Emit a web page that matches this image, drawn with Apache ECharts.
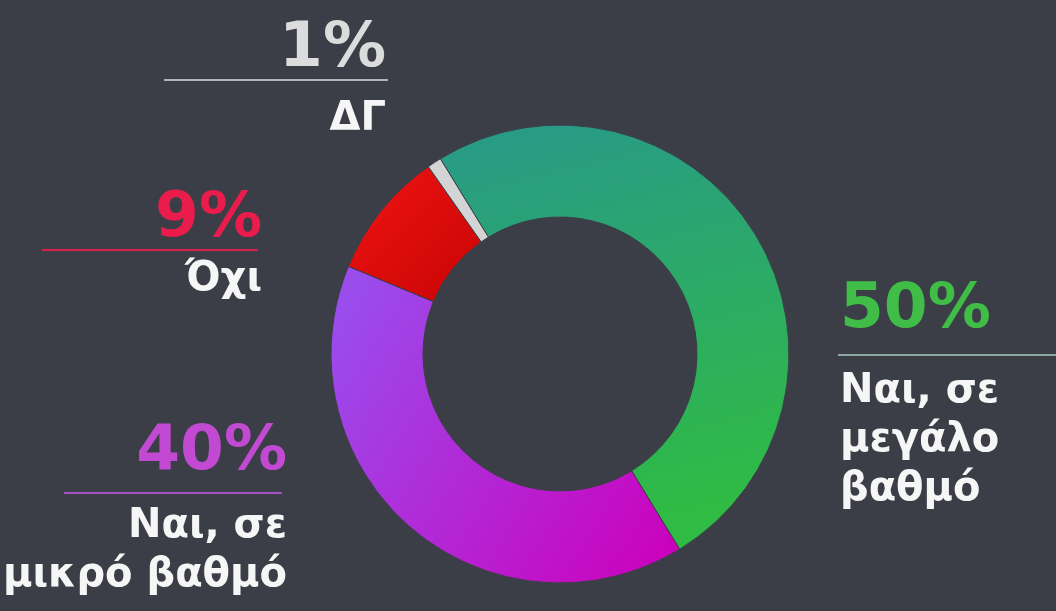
<!DOCTYPE html>
<html>
<head>
<meta charset="utf-8">
<script src="https://cdn.jsdelivr.net/npm/echarts@6/dist/echarts.min.js"></script>
<style>
html, body { margin: 0; padding: 0; background: #3b3e46; }
#chart { width: 1056px; height: 611px; }
</style>
</head>
<body>
<div id="chart"></div>
<script>
// δεδομένα
var categories = ['Ναι, σε\nμεγάλο\nβαθμό', 'Ναι, σε\nμικρό βαθμό', 'Όχι', 'ΔΓ'];
var values = [50, 40, 9, 1];

// χρώματα ποσοστών / γραμμών
var pctColors = ['#3fbd46', '#c24ad2', '#ea1c4c', '#dcdcdc'];
var ruleColors = ['#8fa8a2', '#a552c6', '#d8204c', '#b4b4bc'];
// x, y (πάνω), στοίχιση, ύψος γραμμής ποσοστού
var labelPos = [[840, 254, 'left', 113], [287, 403, 'right', 99], [262, 184, 'right', 71], [386, 4, 'right', 91]];
var rules = [[838, 355, 1056, 355], [64, 493, 282, 493], [42, 250, 258, 250], [164, 80, 388, 80]];

var sliceColors = [
    { type: 'linear', x: 0, y: 0, x2: 0.3, y2: 1, colorStops: [{ offset: 0, color: '#28998a' }, { offset: 1, color: '#2fbb44' }] },
    { type: 'linear', x: 0, y: 0.2, x2: 1, y2: 0.9, colorStops: [{ offset: 0, color: '#9a4cec' }, { offset: 1, color: '#cc00bc' }] },
    { type: 'linear', x: 0, y: 0, x2: 1, y2: 1, colorStops: [{ offset: 0, color: '#f01414' }, { offset: 1, color: '#c80404' }] },
    '#d4d4d4'
];

var font = '"DejaVu Sans", "Noto Sans", sans-serif';
var myChart = echarts.init(document.getElementById('chart'));

var rich = {
    n: { fontSize: 40, fontWeight: 'bold', color: '#f6f6f6', lineHeight: 49, fontFamily: font }
};
labelPos.forEach(function (l, i) {
    rich['p' + i] = { fontSize: 63, fontWeight: 'bold', color: pctColors[i], lineHeight: l[3], fontFamily: font };
});

var data = values.map(function (v, i) {
    return { value: v, name: categories[i], itemStyle: { color: sliceColors[i] } };
});

var graphics = rules.map(function (r, i) {
    return {
        type: 'line',
        shape: { x1: r[0], y1: r[1], x2: r[2], y2: r[3] },
        style: { stroke: ruleColors[i], lineWidth: 2 },
        silent: true
    };
});

myChart.setOption({
    backgroundColor: '#3b3e46',
    animation: false,
    graphic: graphics,
    series: [{
        type: 'pie',
        center: [560, 354],
        radius: [137, 229],
        startAngle: 121.5,
        clockwise: true,
        itemStyle: { borderColor: '#3b3e46', borderWidth: 1 },
        label: {
            show: true,
            formatter: function (p) {
                return '{p' + p.dataIndex + '|' + p.value + '%}\n{n|' + p.name + '}';
            },
            rich: rich
        },
        labelLine: { show: false },
        labelLayout: function (params) {
            var l = labelPos[params.dataIndex];
            return { x: l[0], y: l[1], align: l[2], verticalAlign: 'top' };
        },
        data: data
    }]
});
</script>
</body>
</html>
